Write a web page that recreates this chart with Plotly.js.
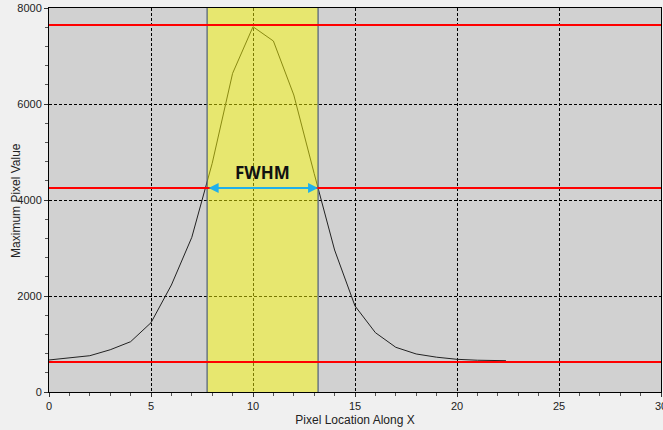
<!DOCTYPE html>
<html>
<head>
<meta charset="utf-8">
<script src="https://cdn.plot.ly/plotly-3.0.1.min.js"></script>
<style>
html,body{margin:0;padding:0;background:#f0f0f0;}
#chart{width:663px;height:430px;}
</style>
</head>
<body>
<div id="chart"></div>
<script>
// Data
const pixelX = [0, 1, 2, 3, 4, 5, 6, 7, 8, 9, 10, 11, 12, 13, 14, 15, 16, 17, 18, 19, 20, 21, 22, 22.4];
const maxValue = [667, 705, 756, 880, 1048, 1444, 2229, 3222, 4764, 6639, 7610, 7312, 6187, 4550, 2958, 1792, 1236, 931, 792, 725, 681, 662, 655, 652];
const levelLines = [625, 4250, 7646];       // baseline, half max, max
const fwhmEdges = [7.75, 13.19];             // left / right crossing of half max
const halfMax = 4250;
const labelText = 'FWHM';
const yTitle = 'Maximum Pixel Value';
const xTitle = 'Pixel Location Along X';

const shapes = [];
shapes.push({type:'rect', layer:'above', xref:'x', yref:'paper',
  x0:fwhmEdges[0], x1:fwhmEdges[1], y0:0, y1:1,
  fillcolor:'rgba(255,255,0,0.47)', line:{width:0}});
fwhmEdges.forEach(e => shapes.push({type:'line', layer:'above', xref:'x', yref:'paper',
  x0:e, x1:e, y0:0, y1:1, line:{color:'#4e5e78', width:1.2}}));
levelLines.forEach(v => shapes.push({type:'line', layer:'above', xref:'paper', yref:'y',
  x0:0, x1:1, y0:v, y1:v, line:{color:'#ff0000', width:2}}));

const data = [{
  x: pixelX, y: maxValue, type:'scatter', mode:'lines',
  line:{color:'#222222', width:1}, hoverinfo:'skip'
}];

const axisFont = {family:'Liberation Sans, Arial, sans-serif', size:11, color:'#222'};
const titleFont = {family:'Liberation Sans, Arial, sans-serif', size:12, color:'#222'};

const layout = {
  width:663, height:430,
  paper_bgcolor:'#f0f0f0', plot_bgcolor:'#d1d1d1',
  margin:{l:49, r:2, t:8, b:38},
  showlegend:false,
  xaxis:{
    range:[0,30], tickvals:[0,5,10,15,20,25,30],
    ticks:'outside', ticklen:4, tickcolor:'#333', tickfont:axisFont,
    ticklabeloverflow:'allow',
    showgrid:true, gridcolor:'#000', griddash:'3px,2px', gridwidth:1,
    showline:true, linecolor:'#000', linewidth:1, mirror:true,
    zeroline:false,
    minor:{dtick:1, ticks:'outside', ticklen:3, tickcolor:'#555', showgrid:false},
    title:{text:xTitle, font:titleFont, standoff:4}
  },
  yaxis:{
    range:[0,8000], tickvals:[0,2000,4000,6000,8000],
    ticks:'outside', ticklen:4, tickcolor:'#333', tickfont:axisFont,
    showgrid:true, gridcolor:'#000', griddash:'3px,2px', gridwidth:1,
    showline:true, linecolor:'#000', linewidth:1, mirror:true,
    zeroline:false,
    minor:{dtick:400, ticks:'outside', ticklen:3, tickcolor:'#555', showgrid:false}
  },
  shapes: shapes,
  annotations:[
    {x:-0.054, y:0.5, xref:'paper', yref:'paper', xanchor:'center', yanchor:'middle',
     text:yTitle, textangle:-90, showarrow:false, font:titleFont},
    {x:fwhmEdges[1], y:halfMax, ax:fwhmEdges[0], ay:halfMax, xref:'x', yref:'y', axref:'x', ayref:'y',
     text:'', showarrow:true, arrowhead:2, startarrowhead:2, arrowside:'end+start',
     arrowsize:1, startarrowsize:1, arrowwidth:2, arrowcolor:'#1fb0ea', standoff:0, startstandoff:0},
    {x:(fwhmEdges[0]+fwhmEdges[1])/2, y:halfMax, xref:'x', yref:'y', yshift:2, yanchor:'bottom',
     text:'<b>'+labelText+'</b>', showarrow:false,
     font:{family:'Open Sans, Liberation Sans, sans-serif', size:17, color:'#111'}}
  ]
};

Plotly.newPlot('chart', data, layout, {displayModeBar:false, staticPlot:true});
</script>
</body>
</html>
